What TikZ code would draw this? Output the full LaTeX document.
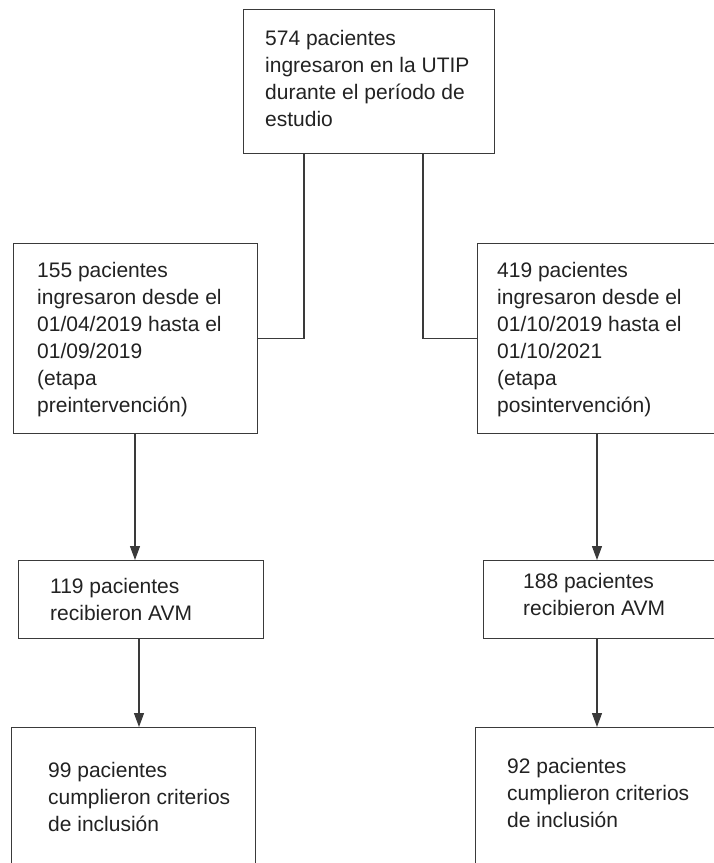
\documentclass[tikz,border=0pt]{standalone}
\usepackage{fontspec}
\setmainfont{Liberation Sans}
\usetikzlibrary{arrows.meta}
\definecolor{linec}{HTML}{3A3A3A}
\definecolor{textc}{HTML}{222222}
\tikzset{
  box/.style={draw=linec, line width=1.2pt, rectangle, inner sep=0pt, anchor=north west},
  txt/.style={anchor=base west, inner sep=0pt, text=textc, font=\fontsize{21}{27}\selectfont},
  conn/.style={draw=linec, line width=1.2pt},
  arr/.style={conn, -{Triangle[length=14pt,width=10pt]}}
}
\newcommand{\lines}[1]{\begin{tabular}[t]{@{}l@{}}#1\end{tabular}}
\begin{document}
\begin{tikzpicture}[x=1pt,y=-1pt]
\useasboundingbox (0,0) rectangle (714,863);
\clip (0,0) rectangle (714,863);
\fill[white] (0,0) rectangle (714,863);
% boxes
\node[box, minimum width=251pt, minimum height=144pt] (top) at (243,9) {};
\node[box, minimum width=244pt, minimum height=190pt] (L1) at (13,243) {};
\node[box, minimum width=260pt, minimum height=190pt] (R1) at (477,243) {};
\node[box, minimum width=245pt, minimum height=78pt] (L2) at (18,560) {};
\node[box, minimum width=260pt, minimum height=78pt] (R2) at (483,560) {};
\node[box, minimum width=244pt, minimum height=170pt] (L3) at (11,727) {};
\node[box, minimum width=260pt, minimum height=170pt] (R3) at (475,727) {};
% texts
\node[txt] (tTop) at (265,45) {\lines{574 pacientes\\ingresaron en la UTIP\\durante el período de\\estudio}};
\node[txt] (tL1) at (37,277) {\lines{155 pacientes\\ingresaron desde el\\01/04/2019 hasta el\\01/09/2019\\(etapa\\preintervención)}};
\node[txt] (tR1) at (497,277) {\lines{419 pacientes\\ingresaron desde el\\01/10/2019 hasta el\\01/10/2021\\(etapa\\posintervención)}};
\node[txt] (tL2) at (50,593) {\lines{119 pacientes\\recibieron AVM}};
\node[txt] (tR2) at (523,588) {\lines{188 pacientes\\recibieron AVM}};
\node[txt] (tL3) at (48,777) {\lines{99 pacientes\\cumplieron criterios\\de inclusión}};
\node[txt] (tR3) at (507,773) {\lines{92 pacientes\\cumplieron criterios\\de inclusión}};
% connectors
\draw[conn] ([xshift=61pt]top.south west) |- (L1.east);
\draw[conn] ([xshift=180pt]top.south west) |- (R1.west);
\draw[arr] ([xshift=122pt]L1.south west) -- ([xshift=122pt]L1.south west |- L2.north);
\draw[arr] ([xshift=121pt]L2.south west) -- ([xshift=121pt]L2.south west |- L3.north);
\draw[arr] ([xshift=120pt]R1.south west) -- ([xshift=120pt]R1.south west |- R2.north);
\draw[arr] ([xshift=114pt]R2.south west) -- ([xshift=114pt]R2.south west |- R3.north);
\end{tikzpicture}
\end{document}
